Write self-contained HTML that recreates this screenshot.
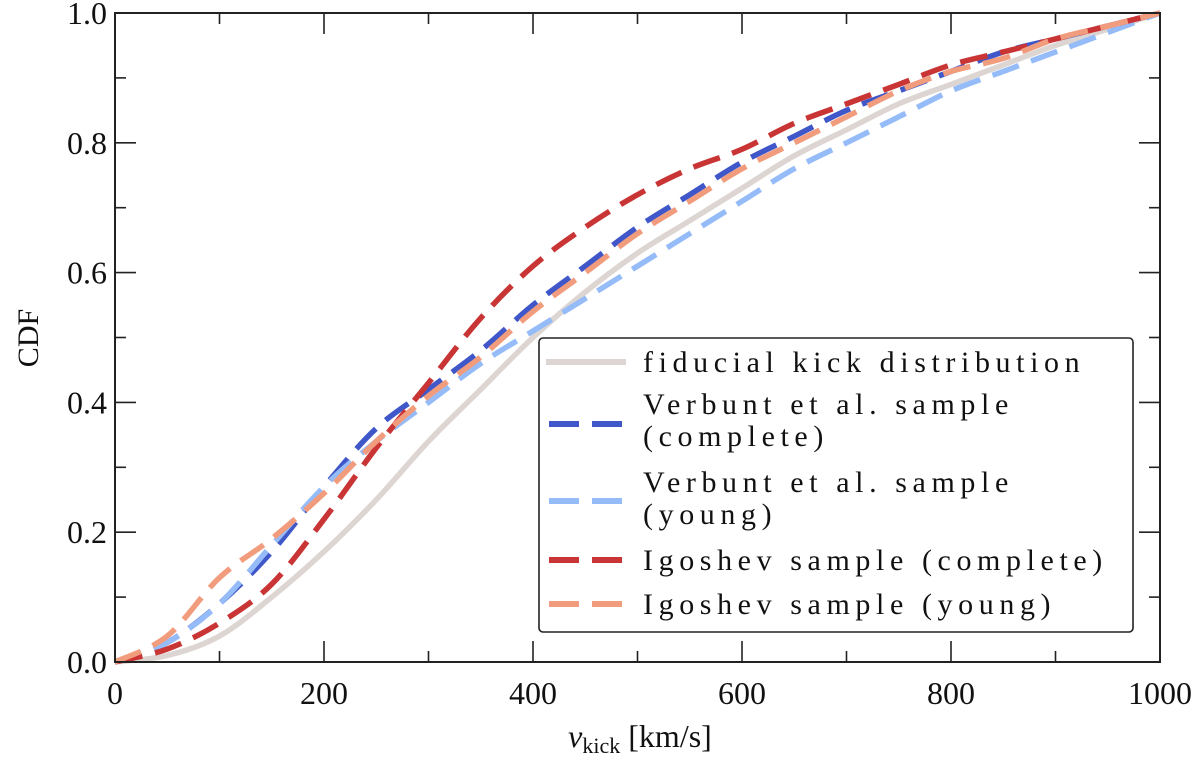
<!DOCTYPE html>
<html><head><meta charset="utf-8"><style>
html,body{margin:0;padding:0;background:#fff;}
</style></head><body>
<svg width="1200" height="755" xmlns="http://www.w3.org/2000/svg" font-family="Liberation Serif, DejaVu Serif, serif">
<g id="marks"></g>
<g id="axes"></g>
<g id="legend"></g>
<text x="338" y="38" font-size="30" fill="#111" text-anchor="middle" transform="rotate(-90 338 338)">CDF</text>
<text x="640" y="747" font-size="32" fill="#111" text-anchor="middle"><tspan font-style="italic">v</tspan><tspan font-size="22" dy="6">kick</tspan><tspan dy="-6"> [km/s]</tspan></text>
</svg>
<script>
const xs=[0,50,100,150,200,250,300,350,400,450,500,550,600,650,700,750,800,850,900,950,1000];
const fiducial=[0,0.01,0.04,0.10,0.17,0.25,0.34,0.42,0.50,0.57,0.63,0.68,0.73,0.78,0.82,0.86,0.89,0.92,0.95,0.975,1];
const verbuntComplete=[0,0.03,0.09,0.17,0.27,0.36,0.42,0.48,0.55,0.61,0.67,0.72,0.77,0.81,0.85,0.88,0.91,0.94,0.96,0.98,1];
const verbuntYoung=[0,0.03,0.09,0.18,0.27,0.34,0.40,0.46,0.51,0.56,0.61,0.66,0.71,0.76,0.80,0.84,0.88,0.91,0.94,0.97,1];
const igoshevComplete=[0,0.02,0.06,0.12,0.22,0.33,0.43,0.53,0.61,0.67,0.72,0.76,0.79,0.83,0.86,0.89,0.92,0.94,0.96,0.98,1];
const igoshevYoung=[0,0.04,0.13,0.19,0.26,0.34,0.41,0.47,0.54,0.60,0.66,0.71,0.76,0.80,0.84,0.88,0.91,0.93,0.96,0.98,1];
const xTicks=[0,200,400,600,800,1000];
const yTicks=[0,0.2,0.4,0.6,0.8,1.0];
const yTickLabels=["0.0","0.2","0.4","0.6","0.8","1.0"];
const seriesNames=["fiducial kick distribution","Verbunt et al. sample|(complete)","Verbunt et al. sample|(young)","Igoshev sample (complete)","Igoshev sample (young)"];

const L=115,R=1160,T=13,B=662;
const sx=v=>L+(v/1000)*(R-L);
const sy=v=>B-v*(B-T);
const NS='http://www.w3.org/2000/svg';
function mk(tag,attrs,parent){const e=document.createElementNS(NS,tag);for(const k in attrs)e.setAttribute(k,attrs[k]);parent.appendChild(e);return e;}
const marks=document.getElementById('marks'),axes=document.getElementById('axes'),leg=document.getElementById('legend');

const series=[
 {d:fiducial,c:'#ddd5d2',dash:null,name:'fiducial-line'},
 {d:verbuntComplete,c:'#3f57c8',dash:'28 13',name:'verbunt-complete-line'},
 {d:verbuntYoung,c:'#95bcf8',dash:'28 13',name:'verbunt-young-line'},
 {d:igoshevComplete,c:'#c93434',dash:'28 13',name:'igoshev-complete-line'},
 {d:igoshevYoung,c:'#f29c7e',dash:'28 13',name:'igoshev-young-line'}];
function pathOf(d){const p=xs.map((x,i)=>[sx(x),sy(d[i])]);let s='M'+p[0][0]+','+p[0][1];
 for(let i=0;i<p.length-1;i++){const p0=p[Math.max(0,i-1)],p1=p[i],p2=p[i+1],p3=p[Math.min(p.length-1,i+2)];
 s+=' C'+(p1[0]+(p2[0]-p0[0])/6)+','+(p1[1]+(p2[1]-p0[1])/6)+' '+(p2[0]-(p3[0]-p1[0])/6)+','+(p2[1]-(p3[1]-p1[1])/6)+' '+p2[0]+','+p2[1];}
 return s;}
series.forEach(s=>{const a={d:pathOf(s.d),fill:'none',stroke:s.c,'stroke-width':5.5};if(s.dash)a['stroke-dasharray']=s.dash;
 const e=mk('path',a,marks);
 
 });

const fr=mk('rect',{x:L,y:T,width:R-L,height:B-T,fill:'none',stroke:'#222','stroke-width':2},axes);


for(let v=0;v<=1000;v+=100){const maj=v%200===0,len=maj?21:11,x=sx(v);
 mk('line',{x1:x,y1:B,x2:x,y2:B-len,stroke:'#222','stroke-width':1.6},axes);
 mk('line',{x1:x,y1:T,x2:x,y2:T+len,stroke:'#222','stroke-width':1.6},axes);}
for(let i=0;i<=10;i++){const v=i/10,maj=i%2===0,len=maj?21:11,y=sy(v);
 mk('line',{x1:L,y1:y,x2:L+len,y2:y,stroke:'#222','stroke-width':1.6},axes);
 mk('line',{x1:R,y1:y,x2:R-len,y2:y,stroke:'#222','stroke-width':1.6},axes);}
xTicks.forEach(v=>{const t=mk('text',{x:sx(v),y:B+42,'font-size':32,fill:'#111','text-anchor':'middle'},axes);t.textContent=String(v);
 
 });
yTicks.forEach((v,i)=>{const t=mk('text',{x:L-8,y:sy(v)+11,'font-size':32,fill:'#111','text-anchor':'end'},axes);t.textContent=yTickLabels[i];
 
 });

const box=mk('rect',{x:539,y:338,width:594,height:294,rx:4,fill:'#fff',stroke:'#222','stroke-width':1.6},leg);


const rows=[{hy:362,ty:[372]},{hy:424,ty:[414,446]},{hy:501,ty:[492,524]},{hy:560,ty:[570]},{hy:604,ty:[614]}];
rows.forEach((r,i)=>{const s=series[i];
 const g=mk('g',{},leg);
 
 
 const a={x1:s.dash?549:546,y1:r.hy,x2:s.dash?622:626,y2:r.hy,stroke:s.c,'stroke-width':6};if(s.dash)a['stroke-dasharray']='30 13';
 mk('line',a,g);
 seriesNames[i].split('|').forEach((txt,j)=>{const t=mk('text',{x:643,y:r.ty[j],'font-size':30,fill:'#111','letter-spacing':'5.6'},g);t.textContent=txt;});});
</script>
</body></html>
